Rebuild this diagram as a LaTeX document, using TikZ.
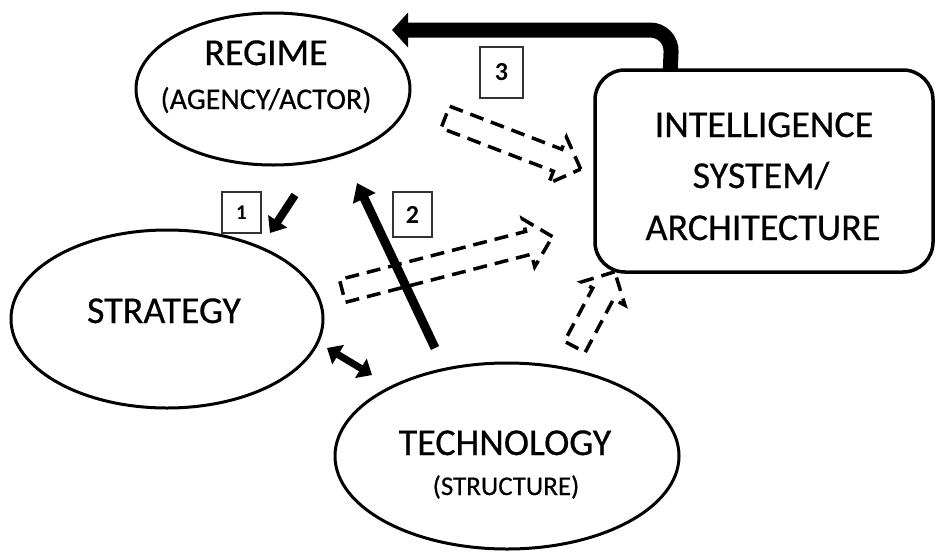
\documentclass[tikz,border=0pt]{standalone}
\usepackage{fontspec}
\setmainfont{Carlito}
\newfontfamily\dtext{Carlito}[FakeBold=0.5]
\usetikzlibrary{shapes.geometric,shapes.arrows,arrows.meta,calc}
\begin{document}
\begin{tikzpicture}[x=1pt,y=-1pt,
  oval/.style={draw,ellipse,line width=3pt,inner sep=0pt},
  bigtxt/.style={font=\dtext\fontsize{38}{40}\selectfont,anchor=base,inner sep=0pt},
  subtxt/.style={font=\dtext\fontsize{30}{32}\selectfont,anchor=base,inner sep=0pt},
  lab/.style={draw=black!80,line width=1.2pt,inner sep=0pt,font=\bfseries\fontsize{26}{28}\selectfont},
  darr/.style={draw,dash pattern=on 14pt off 8pt,line width=3.5pt,single arrow,
    single arrow head extend=13pt,single arrow tip angle=90,single arrow head indent=0pt,
    minimum width=0pt,inner sep=10pt}
]
\useasboundingbox (0,0) rectangle (936,552);
% shapes
\node[oval,minimum width=274pt,minimum height=152pt] (regime) at (273,89) {};
\node[oval,minimum width=312pt,minimum height=178pt] (strategy) at (167,319) {};
\node[oval,minimum width=344pt,minimum height=186pt] (tech) at (507,456) {};
\node[draw,rounded corners=30pt,line width=3.5pt,minimum width=338pt,minimum height=202pt] (intel) at (764,171) {};
% texts
\node[bigtxt] (tregime) at (266,65) {REGIME};
\node[subtxt] (tagency) at (266,109) {(AGENCY/ACTOR)};
\node[bigtxt] (tstrat) at (164,323) {STRATEGY};
\node[bigtxt] (ttech) at (505,455) {TECHNOLOGY};
\node[subtxt,font=\dtext\fontsize{27}{29}\selectfont] (tstruct) at (506,495) {(STRUCTURE)};
\node[bigtxt] (tint1) at (764,137) {INTELLIGENCE};
\node[bigtxt] (tint2) at (761,188) {SYSTEM/};
\node[bigtxt] (tint3) at (763,240) {ARCHITECTURE};
% dashed hollow arrows
\node[darr,minimum height=145pt,rotate=-21] (da1) at (507.5,141) {};
\node[darr,minimum height=217pt,rotate=14.5] (da2) at (441.75,265.25) {};
\node[darr,minimum height=85pt,rotate=62] (da3) at (592,314.5) {};
% labels
\node[lab,minimum width=39pt,minimum height=41pt,font=\bfseries\fontsize{21}{23}\selectfont] (l1) at (241.5,212.5) {1};
\node[lab,minimum width=39pt,minimum height=45pt] (l2) at (412.5,214.5) {2};
\node[lab,minimum width=43pt,minimum height=51pt] (l3) at (501.5,72.5) {3};
% solid arrows
\coordinate (topstart) at ($(intel.north west)+(77,2)$);
\coordinate (topbend) at (672,30);
\coordinate (topend) at (392,30);
\draw[line width=15pt,rounded corners=22pt,-{Triangle[width=34pt,length=16pt]}] (topstart) -- (topbend) -- (topend);
\coordinate (a1s) at (295,195);
\coordinate (a1e) at (270,233);
\draw[line width=8pt,-{Triangle[width=22pt,length=14pt]}] (a1s) -- (a1e);
\coordinate (a2s) at (435,348);
\coordinate (a2e) at (357,183);
\draw[line width=9pt,-{Triangle[width=24pt,length=17pt]}] (a2s) -- (a2e);
\coordinate (a3s) at (327,348);
\coordinate (a3e) at (372,375);
\draw[line width=7pt,{Triangle[width=22pt,length=13pt]}-{Triangle[width=22pt,length=13pt]}] (a3s) -- (a3e);
\end{tikzpicture}
\end{document}
